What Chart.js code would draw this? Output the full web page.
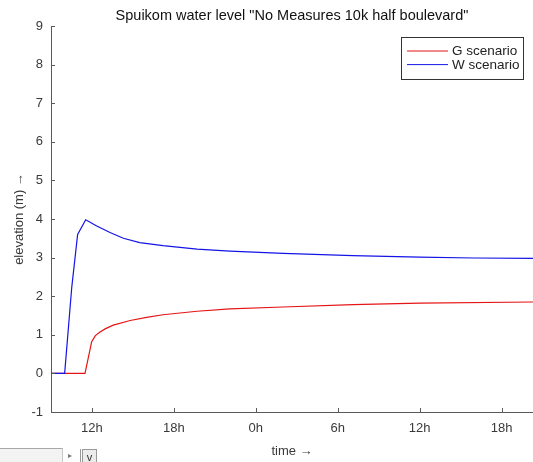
<!DOCTYPE html>
<html>
<head>
<meta charset="utf-8">
<script src="https://cdn.jsdelivr.net/npm/chart.js@4/dist/chart.umd.min.js"></script>
<style>
  html, body { margin: 0; padding: 0; background: #fff; }
  #wrap { position: relative; width: 533px; height: 462px; overflow: hidden; }
  #bar { position: absolute; left: -2px; top: 448px; width: 64px; height: 16px; background: #f3f3f3; border-top: 1px solid #a8a8a8; border-right: 1px solid #c8c8c8; }
  #arrow { position: absolute; left: 68px; top: 451px; font: 8px "Liberation Sans", sans-serif; color: #777; }
  #sep { position: absolute; left: 80px; top: 449px; width: 1px; height: 13px; background: #999; }
  #vbtn { position: absolute; left: 82px; top: 449px; width: 13px; height: 14px; border: 1px solid #999; background: #ececec; font: 11px "Liberation Sans", sans-serif; color: #333; text-align: center; line-height: 15px; }
</style>
</head>
<body>
<div id="wrap">
  <canvas id="myChart" width="533" height="462"></canvas>
  <div id="bar"></div>
  <div id="arrow">&#9656;</div>
  <div id="sep"></div>
  <div id="vbtn">v</div>
</div>
<script>
// hours since start of day 1 (24 = 0h of day 2)
const gHours = [9, 11.49, 11.98, 12.25, 12.59, 13.0, 13.56, 14.8, 16.0, 17.2, 19.7, 22.1, 26, 31.1, 36, 44.3];
const gLevel = [0, 0, 0.82, 0.98, 1.07, 1.16, 1.25, 1.37, 1.45, 1.52, 1.61, 1.67, 1.72, 1.78, 1.82, 1.85];

const wHours = [9, 10.0, 10.52, 10.95, 11.54, 12.35, 13.32, 14.3, 15.5, 17.2, 19.7, 22.1, 26, 31.1, 36, 40, 44.3];
const wLevel = [0, 0, 2.23, 3.6, 3.98, 3.82, 3.65, 3.5, 3.39, 3.31, 3.22, 3.17, 3.11, 3.05, 3.01, 2.99, 2.98];

const xTicks = [12, 18, 24, 30, 36, 42];
const yTicks = [-1, 0, 1, 2, 3, 4, 5, 6, 7, 8, 9];

const fontFam = '"Liberation Sans", Arial, sans-serif';
const axisColor = '#5a5a5a';
const textColor = '#3a3a3a';

// inward tick marks, box-off axes like the original figure
const tickMarks = {
  id: 'tickMarks',
  afterDraw(chart) {
    const c = chart.ctx, a = chart.chartArea;
    const xs = chart.scales.x, ys = chart.scales.y;
    c.save();
    c.strokeStyle = axisColor;
    c.lineWidth = 1;
    c.beginPath();
    yTicks.forEach(v => {
      const y = Math.round(ys.getPixelForValue(v)) + 0.5;
      c.moveTo(a.left, y); c.lineTo(a.left + 4, y);
    });
    xTicks.forEach(v => {
      const x = Math.round(xs.getPixelForValue(v)) + 0.5;
      c.moveTo(x, a.bottom); c.lineTo(x, a.bottom - 4);
    });
    c.stroke();
    c.restore();
  }
};

// boxed legend in the top-right corner
const boxLegend = {
  id: 'boxLegend',
  afterDraw(chart) {
    const c = chart.ctx;
    const x0 = 401, y0 = 37, w = 122, h = 42;
    c.save();
    c.fillStyle = '#fff';
    c.fillRect(x0, y0, w, h);
    c.strokeStyle = '#333';
    c.lineWidth = 1;
    c.strokeRect(x0 + 0.5, y0 + 0.5, w, h);
    c.font = '13.5px ' + fontFam;
    c.textBaseline = 'middle';
    chart.data.datasets.forEach((ds, i) => {
      const y = y0 + 14 + i * 13.6;
      c.strokeStyle = ds.borderColor;
      c.beginPath();
      c.moveTo(x0 + 6, y); c.lineTo(x0 + 47, y);
      c.stroke();
      c.fillStyle = '#222';
      c.fillText(ds.label, x0 + 51, y + 0.5);
    });
    c.restore();
  }
};

const ctx = document.getElementById('myChart');

new Chart(ctx, {
  type: 'line',
  data: {
    datasets: [{
      label: 'G scenario',
      data: gHours.map((h, i) => ({x: h, y: gLevel[i]})),
      borderColor: 'rgb(230, 20, 20)',
      borderWidth: 1.2,
      pointRadius: 0,
      tension: 0,
      order: 2
    }, {
      label: 'W scenario',
      data: wHours.map((h, i) => ({x: h, y: wLevel[i]})),
      borderColor: 'rgb(20, 20, 230)',
      borderWidth: 1.2,
      pointRadius: 0,
      tension: 0,
      order: 1
    }]
  },
  options: {
    responsive: false,
    animation: false,
    layout: { padding: 0 },
    plugins: {
      legend: { display: false },
      tooltip: { enabled: false },
      title: {
        display: true,
        fullSize: false,
        text: 'Spuikom water level "No Measures 10k half boulevard"',
        color: '#111',
        font: { family: fontFam, size: 14.5, weight: 'normal' },
        padding: { top: 7, bottom: 1.6 }
      }
    },
    scales: {
      x: {
        type: 'linear',
        min: 9,
        max: 44.3,
        afterBuildTicks: s => { s.ticks = xTicks.map(v => ({value: v})); },
        afterFit: s => { s.height = 50; },
        grid: { display: false, drawTicks: false },
        border: { color: axisColor, width: 1 },
        ticks: {
          padding: 9,
          color: textColor,
          font: { family: fontFam, size: 13 },
          callback: v => (v % 24) + 'h'
        },
        title: {
          display: true,
          text: 'time \u2192',
          color: textColor,
          font: { family: fontFam, size: 13 },
          padding: { top: 0, bottom: 3 }
        }
      },
      y: {
        min: -1,
        max: 9,
        afterBuildTicks: s => { s.ticks = yTicks.map(v => ({value: v})); },
        afterFit: s => { s.width = 51; },
        grid: { display: false, drawTicks: false },
        border: { color: axisColor, width: 1 },
        ticks: {
          padding: 8,
          color: textColor,
          font: { family: fontFam, size: 13 }
        },
        title: {
          display: true,
          text: 'elevation (m) \u2192',
          color: textColor,
          font: { family: fontFam, size: 13 },
          padding: { top: 12, bottom: 0 }
        }
      }
    }
  },
  plugins: [tickMarks, boxLegend]
});
</script>
</body>
</html>
